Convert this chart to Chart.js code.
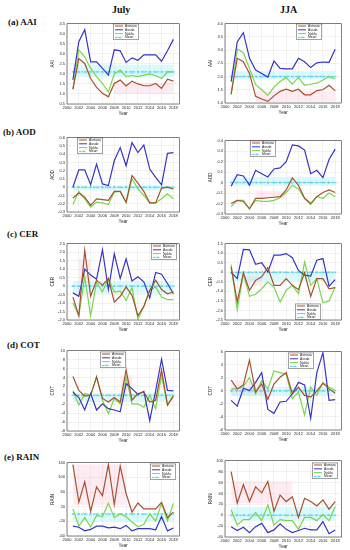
<!DOCTYPE html>
<html>
<head>
<meta charset="utf-8">
<script src="https://cdn.jsdelivr.net/npm/chart.js@4.4.0/dist/chart.umd.min.js"></script>
<style>
  body { margin: 0; background: #fff; width: 350px; height: 550px; position: relative; overflow: hidden; font-family: "Liberation Serif", serif; }
  canvas { position: absolute; }
  .row { position: absolute; font-weight: bold; font-size: 9px; line-height: 10px; white-space: nowrap; color: #111; }
  .head { position: absolute; font-weight: bold; font-size: 10px; line-height: 12px; color: #111; }
</style>
</head>
<body>
<div class="head" style="left:112px;top:4px">July</div>
<div class="head" style="left:280px;top:4px">JJA</div>
<div class="row" style="left:8px;top:17px">(a) AAI</div>
<div class="row" style="left:3px;top:127px">(b) AOD</div>
<div class="row" style="left:7px;top:229px">(c) CER</div>
<div class="row" style="left:7px;top:340px">(d) COT</div>
<div class="row" style="left:4px;top:452px">(e) RAIN</div>

<script>
const years = [2001, 2002, 2003, 2004, 2005, 2006, 2007, 2008, 2009, 2010, 2011, 2012, 2013, 2014, 2015, 2016, 2017, 2018];
const xTicks = [2000, 2002, 2004, 2006, 2008, 2010, 2012, 2014, 2016, 2018];
const stations = ['Asmara', 'Assab', 'Nakfa', 'Mean'];

// (a) AAI
const aaiJulAsmara = [1.23, 2.76, 2.52, 1.77, 1.33, 1.03, 0.86, 1.52, 1.69, 1.4, 1.64, 1.5, 1.41, 1.41, 1.52, 1.28, 1.74, 1.64];
const aaiJulAssab  = [1.7, 3.6, 4.2, 2.6, 2.6, 2.27, 1.94, 3.2, 3.15, 2.57, 2.8, 2.68, 2.95, 2.95, 2.95, 2.63, 3.15, 3.72];
const aaiJulNakfa  = [1.25, 3.2, 2.85, 2.27, 1.86, 1.52, 1.1, 2.0, 2.19, 1.86, 1.92, 1.86, 1.94, 2.0, 1.92, 1.77, 2.1, 2.1];
const aaiJulMean = 2.1;
const aaiJulBand = [1.85, 2.45];
const aaiJulPink = [2008, 2018, 1.0, 1.55];   // [from, to, low, high]

const aaiJjaAsmara = [1.34, 2.69, 2.56, 2.12, 1.25, 1.15, 1.06, 1.27, 1.44, 1.52, 1.44, 1.52, 1.31, 1.31, 1.47, 1.5, 1.67, 1.46];
const aaiJjaAssab  = [1.81, 3.31, 3.66, 2.69, 2.25, 2.12, 1.98, 2.59, 2.31, 2.29, 2.29, 2.69, 2.56, 2.34, 2.52, 2.55, 2.54, 3.03];
const aaiJjaNakfa  = [1.31, 3.04, 2.9, 2.31, 1.69, 1.5, 1.29, 1.6, 1.81, 1.96, 1.71, 1.97, 1.67, 1.71, 1.75, 1.87, 2.0, 1.91];
const aaiJjaMean = 2.0;
const aaiJjaBand = [1.9, 2.2];
const aaiJjaPink = [2005, 2018, 1.05, 1.45];

// (b) AOD
const aodJulAsmara = [-0.13, -0.07, -0.12, -0.22, -0.14, -0.15, -0.16, -0.05, -0.05, -0.18, 0.14, 0.05, -0.05, -0.19, -0.19, -0.01, 0.0, -0.02];
const aodJulAssab  = [0.0, 0.21, 0.21, 0.03, 0.28, 0.04, 0.02, 0.32, 0.48, 0.26, 0.54, 0.42, 0.51, 0.22, 0.12, 0.03, 0.41, 0.42];
const aodJulNakfa  = [-0.21, -0.05, -0.14, -0.24, -0.18, -0.19, -0.21, -0.06, -0.05, -0.19, 0.1, -0.02, -0.1, -0.19, -0.19, -0.14, -0.08, -0.14];
const aodJulMean = 0;
const aodJulBand = [-0.04, 0.02];
const aodJulPink = null;

const aodJjaAsmara = [-0.2, -0.17, -0.18, -0.25, -0.15, -0.15, -0.145, -0.14, -0.135, -0.07, 0.045, -0.025, -0.15, -0.2, -0.135, -0.095, -0.07, -0.095];
const aodJjaAssab  = [-0.035, 0.075, 0.063, -0.025, 0.117, 0.085, 0.054, 0.13, 0.14, 0.2, 0.36, 0.35, 0.31, 0.085, 0.117, 0.047, 0.22, 0.32];
const aodJjaNakfa  = [-0.23, -0.17, -0.17, -0.25, -0.17, -0.18, -0.18, -0.17, -0.145, -0.095, -0.025, -0.06, -0.15, -0.21, -0.135, -0.15, -0.1, -0.135];
const aodJjaMean = 0;
const aodJjaBand = [-0.03, 0.05];
const aodJjaPink = [2005, 2010, -0.15, -0.08];

// (c) CER
const cerJulAsmara = [-0.65, -1.75, 2.1, -0.6, 0.35, 0.05, 0.45, -0.95, -0.6, -0.05, -0.55, -1.75, -1.2, -0.25, 0.35, -0.2, -0.45, -0.35];
const cerJulAssab  = [-0.4, -0.6, 1.0, 0.65, 0.4, 2.15, -0.2, 1.9, 0.45, 1.6, 0.3, 0.55, 0.25, -0.7, 0.8, 0.7, 0.15, -0.45];
const cerJulNakfa  = [-1.0, -1.75, 0.55, -1.75, 0.25, -0.35, 0.45, -0.35, -0.3, -0.85, -0.1, -1.95, -1.2, -0.25, -0.05, -0.65, -0.8, -0.8];
const cerJulMean = 0;
const cerJulBand = [-0.45, 0.3];
const cerJulPink = [2002, 2004, 0.2, 1.6];

const cerJjaAsmara = [0.28, -1.55, -0.03, -0.94, -0.42, -0.24, 0.25, -0.68, -0.68, -0.33, -0.68, -0.91, -0.03, -1.26, -0.33, -0.33, -0.86, -0.8];
const cerJjaAssab  = [0.0, -0.33, 1.2, 1.18, 0.42, 0.5, 0.02, 0.9, 0.9, 0.98, 0.77, 0.1, -0.15, -0.2, 0.63, 0.72, -0.73, -0.38];
const cerJjaNakfa  = [0.4, -1.96, -0.07, -1.26, -1.15, -0.86, -0.5, -0.77, -1.56, -0.94, -0.68, -1.12, 0.54, -0.68, -0.33, -1.6, -1.5, -0.77];
const cerJjaMean = 0;
const cerJjaBand = [-0.45, 0.05];
const cerJjaPink = [2003, 2006, -0.7, -0.2];

// (d) COT
const cotJulAsmara = [4.2, 1.1, -0.2, 0.0, 4.1, -0.7, -1.5, -0.5, -1.5, 5.7, -1.1, 0.4, 0.7, -1.5, -1.1, 5.7, -2.2, -0.2];
const cotJulAssab  = [0.7, -0.5, -3.3, 0.4, -3.3, -1.9, -3.0, -3.3, -3.7, 2.6, 1.5, 0.2, 0.9, -5.7, 1.0, 8.1, 1.1, 1.0];
const cotJulNakfa  = [1.1, -2.2, 0.4, 0.0, 4.2, -1.1, -4.1, -0.7, -1.9, 4.1, -1.9, -1.9, -2.7, 0.0, -3.0, 4.4, -2.2, 0.0];
const cotJulMean = 0;
const cotJulBand = [-1.5, 0.5];
const cotJulPink = [2009, 2011, 1.0, 4.5];

const cotJjaAsmara = [1.66, 0.3, 0.9, 4.7, -0.2, 1.05, -1.3, 1.05, 2.1, 2.8, -0.45, 0.55, -0.7, -0.95, -0.05, 1.15, 0.3, -0.35];
const cotJjaAssab  = [-1.45, -2.35, 0.4, 0.05, 1.3, 2.8, -2.85, -3.45, -1.7, -1.6, -0.45, 1.3, 0.9, -4.2, 2.8, 5.85, -1.45, -1.35];
const cotJjaNakfa  = [0.3, 0.3, 0.65, 2.05, -0.45, 1.55, 0.3, 3.05, 2.8, 2.55, -1.2, -0.2, -3.7, 0.55, -0.7, 1.3, 0.55, 0.05];
const cotJjaMean = 0;
const cotJjaBand = [-0.8, 0.6];
const cotJjaPink = [2001, 2007, -0.8, 1.6];

// (e) RAIN
const rainJulAsmara = [135, 32, 88, 7, 74, 50, 135, 26, 131, 56, 5, 30, 14, 14, 14, 32, -10, 5];
const rainJulAssab  = [-33, -36, -46, -42, -33, -33, -38, -36, -40, -31, -46, -40, -40, -40, -43, -7, -46, -38];
const rainJulNakfa  = [14, -33, -10, -35, -4, -7, 29, -10, 0, -7, -22, -35, -28, 0, -19, 29, -19, 29];
const rainJulMean = 0;
const rainJulBand = [-20, 0];
const rainJulPink = [2001, 2010, 25, 135];

const rainJjaAsmara = [80, 22, 56, 25, 52, 41, 62, 7, 37, 25, 34, -4, 31, 25, 17, 28, 11, 25];
const rainJjaAssab  = [-21, -28, -22, -32, -21, -15, -32, -27, -16, -26, -32, -28, -24, -27, -27, -12, -34, -27];
const rainJjaNakfa  = [10, -18, -8, -8, 5, -10, 19, -18, -8, -10, -10, -26, -4, -4, -10, 1, -10, 16];
const rainJjaMean = 0;
const rainJjaBand = [-10, 15];
const rainJjaPink = [2001, 2011, 22, 62];

const colors = { Asmara: '#a5502f', Assab: '#3434c8', Nakfa: '#7ad64c', Mean: '#4ccbf0' };

// box = [left, top, right, bottom] of plot area in page px, leg = legend top-left in page px
const panels = [
  { box: [67, 23, 180, 104], title: 'AAI', min: 0.5, max: 4.5, step: 0.5, d: [aaiJulAsmara, aaiJulAssab, aaiJulNakfa], mean: aaiJulMean, band: aaiJulBand, pink: aaiJulPink, leg: [113, 23] },
  { box: [225, 23, 342, 103], title: 'AAI', min: 1, max: 4, step: 0.5, d: [aaiJjaAsmara, aaiJjaAssab, aaiJjaNakfa], mean: aaiJjaMean, band: aaiJjaBand, pink: aaiJjaPink, leg: [296, 23] },
  { box: [67, 137, 180, 212], title: 'AOD', min: -0.3, max: 0.6, step: 0.1, d: [aodJulAsmara, aodJulAssab, aodJulNakfa], mean: aodJulMean, band: aodJulBand, pink: aodJulPink, leg: [77, 137] },
  { box: [225, 140, 342, 214], title: 'AOD', min: -0.3, max: 0.4, step: 0.1, d: [aodJjaAsmara, aodJjaAssab, aodJjaNakfa], mean: aodJjaMean, band: aodJjaBand, pink: aodJjaPink, leg: [250, 140] },
  { box: [67, 243, 180, 320], title: 'CER', min: -2, max: 2.5, step: 0.5, d: [cerJulAsmara, cerJulAssab, cerJulNakfa], mean: cerJulMean, band: cerJulBand, pink: cerJulPink, leg: [151, 243] },
  { box: [225, 243, 342, 320], title: 'CER', min: -2.5, max: 1.5, step: 0.5, d: [cerJjaAsmara, cerJjaAssab, cerJjaNakfa], mean: cerJjaMean, band: cerJjaBand, pink: cerJjaPink, leg: [295, 303] },
  { box: [67, 350, 180, 431], title: 'COT', min: -8, max: 10, step: 2, d: [cotJulAsmara, cotJulAssab, cotJulNakfa], mean: cotJulMean, band: cotJulBand, pink: cotJulPink, leg: [100, 351] },
  { box: [225, 351, 342, 430], title: 'COT', min: -6, max: 6, step: 2, d: [cotJjaAsmara, cotJjaAssab, cotJjaNakfa], mean: cotJjaMean, band: cotJjaBand, pink: cotJjaPink, leg: [288, 352] },
  { box: [67, 462, 180, 536], title: 'RAIN', min: -60, max: 140, step: 20, d: [rainJulAsmara, rainJulAssab, rainJulNakfa], mean: rainJulMean, band: rainJulBand, pink: rainJulPink, leg: [150, 463] },
  { box: [225, 460, 342, 537], title: 'RAIN', min: -40, max: 100, step: 20, d: [rainJjaAsmara, rainJjaAssab, rainJjaNakfa], mean: rainJjaMean, band: rainJjaBand, pink: rainJjaPink, leg: [312, 462] },
];

// little boxed legend inside the axes, like matlab
const boxLegend = {
  id: 'boxLegend',
  afterDatasetsDraw(chart, args, opts) {
    const ctx = chart.ctx;
    const a = chart.chartArea;
    const x = a.left + opts.dx, y = a.top + opts.dy;
    const w = 26, h = 16;
    ctx.save();
    ctx.fillStyle = '#fff';
    ctx.fillRect(x, y, w, h);
    ctx.strokeStyle = '#444';
    ctx.lineWidth = 0.5;
    ctx.strokeRect(x + 0.25, y + 0.25, w - 0.5, h - 0.5);
    chart.data.datasets.filter(ds => ds.label).forEach((ds, i) => {
      const yy = y + 2.3 + i * 3.8;
      ctx.strokeStyle = ds.borderColor;
      ctx.lineWidth = 1;
      ctx.setLineDash(ds.borderDash || []);
      ctx.beginPath(); ctx.moveTo(x + 2, yy); ctx.lineTo(x + 10, yy); ctx.stroke();
      ctx.setLineDash([]);
      if (ds.pointRadius) {
        ctx.lineWidth = 0.6;
        ctx.beginPath();
        ctx.moveTo(x + 5, yy - 1); ctx.lineTo(x + 7, yy + 1);
        ctx.moveTo(x + 7, yy - 1); ctx.lineTo(x + 5, yy + 1);
        ctx.stroke();
      }
      ctx.fillStyle = '#222';
      ctx.font = '3.4px "Liberation Sans"';
      ctx.textBaseline = 'middle';
      ctx.fillText(ds.label, x + 12, yy);
    });
    ctx.restore();
  }
};

const frame = {
  id: 'frame',
  afterDraw(chart) {
    const a = chart.chartArea, ctx = chart.ctx;
    ctx.save();
    ctx.strokeStyle = '#333';
    ctx.lineWidth = 0.6;
    ctx.strokeRect(a.left, a.top, a.right - a.left, a.bottom - a.top);
    ctx.restore();
  }
};

const padL = 17, padT = 4, padR = 4, padB = 12;

function makePanel(p) {
  const cv = document.createElement('canvas');
  const w = p.box[2] - p.box[0], h = p.box[3] - p.box[1];
  cv.width = w + padL + padR;
  cv.height = h + padT + padB;
  cv.style.left = (p.box[0] - padL) + 'px';
  cv.style.top = (p.box[1] - padT) + 'px';
  document.body.appendChild(cv);

  const pts = vals => years.map((yr, i) => ({ x: yr, y: vals[i] }));
  const flat = v => years.map(yr => ({ x: yr, y: v }));

  const datasets = [];
  p.d.forEach((vals, i) => {
    datasets.push({ label: stations[i], data: pts(vals), borderColor: colors[stations[i]], borderWidth: 1.2, pointRadius: 0, tension: 0, order: 1 });
  });
  datasets.push({ label: 'Mean', data: flat(p.mean), borderColor: colors.Mean, borderWidth: 1, borderDash: [2.5, 1.5],
    pointRadius: 1.4, pointStyle: 'crossRot', pointBorderColor: colors.Mean, pointBorderWidth: 0.7, order: 2 });
  // shaded band round the mean
  datasets.push({ data: flat(p.band[0]), borderWidth: 0, pointRadius: 0, fill: false, order: 5 });
  datasets.push({ data: flat(p.band[1]), borderWidth: 0, pointRadius: 0, fill: '-1', backgroundColor: 'rgba(120,232,245,0.28)', order: 5 });
  // pinkish spread for Asmara where it shows
  if (p.pink) {
    const [x0, x1, lo, hi] = p.pink;
    datasets.push({ data: [{ x: x0, y: lo }, { x: x1, y: lo }], borderWidth: 0, pointRadius: 0, fill: false, order: 6 });
    datasets.push({ data: [{ x: x0, y: hi }, { x: x1, y: hi }], borderWidth: 0, pointRadius: 0, fill: '-1', backgroundColor: 'rgba(255,170,200,0.22)', order: 6 });
  }

  const grid = { color: 'rgba(0,0,0,0.1)', lineWidth: 0.5, drawTicks: false };

  new Chart(cv, {
    type: 'line',
    data: { datasets },
    options: {
      responsive: false,
      animation: false,
      devicePixelRatio: 1,
      layout: { padding: { top: padT, right: padR, left: 0, bottom: 0 } },
      plugins: {
        legend: { display: false },
        tooltip: { enabled: false },
        boxLegend: { dx: p.leg[0] - p.box[0], dy: p.leg[1] - p.box[1] },
      },
      scales: {
        x: {
          type: 'linear', min: 2000, max: 2019,
          afterFit: s => { s.height = padB; },
          afterBuildTicks: s => { s.ticks = xTicks.map(v => ({ value: v })); },
          ticks: { font: { size: 4, family: 'Liberation Sans' }, color: '#262626', padding: 1.5, maxRotation: 0, autoSkip: false, callback: v => String(v) },
          grid,
          border: { display: false },
          title: { display: true, text: 'Year', font: { size: 4.5, family: 'Liberation Sans' }, color: '#262626', padding: 0 }
        },
        y: {
          min: p.min, max: p.max,
          afterFit: s => { s.width = padL; },
          ticks: { stepSize: p.step, font: { size: 4, family: 'Liberation Sans' }, color: '#262626', padding: 2 },
          grid,
          border: { display: false },
          title: { display: true, text: p.title, font: { size: 4.5, family: 'Liberation Sans' }, color: '#262626', padding: { top: 0, bottom: 1 } }
        }
      }
    },
    plugins: [boxLegend, frame]
  });
}

panels.forEach(makePanel);
</script>
</body>
</html>
